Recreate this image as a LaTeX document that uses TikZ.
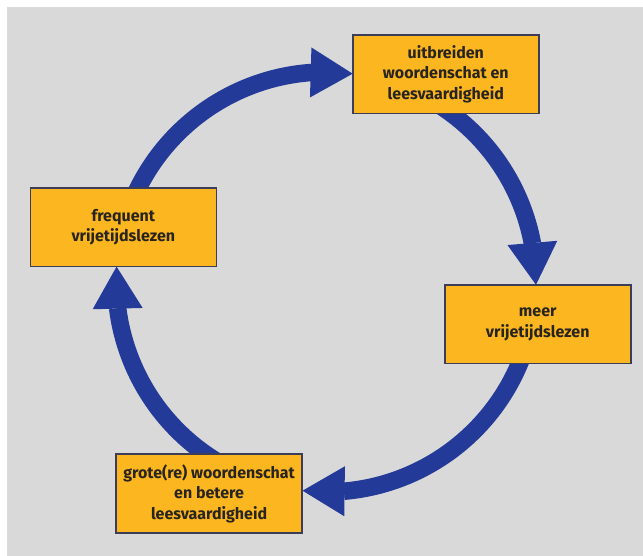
\documentclass[tikz,border=0pt]{standalone}
\usepackage{fontspec}
\setmainfont{Fira Sans}
\usetikzlibrary{arrows.meta,bending,calc,backgrounds}
\definecolor{bg}{RGB}{217,217,217}
\definecolor{boxfill}{RGB}{252,182,32}
\definecolor{boxline}{RGB}{60,62,88}
\definecolor{cycblue}{RGB}{35,58,152}
\definecolor{txt}{RGB}{40,36,30}
\begin{document}
\begin{tikzpicture}[x=1pt,y=1pt,
  stage/.style={draw=boxline, line width=1.6pt, fill=boxfill,
    minimum width=186pt, minimum height=78.5pt, inner sep=0pt,
    align=center, text=txt, font=\fontsize{16}{20.5}\selectfont\bfseries},
  cyc/.style={draw=cycblue, line width=17.5pt,
    -{Triangle[length=42pt,width=50pt,flex,line width=0pt]}}]
\useasboundingbox (0,0) rectangle (643,556);
\coordinate (ctr) at (326,274);
\node[stage] (top) at (445.8,481.8) {uitbreiden\\woordenschat en\\leesvaardigheid};
\node[stage] (left) at (123.3,328.7) {frequent\\vrijetijdslezen};
\node[stage] (right) at (537.7,231.8) {meer\\vrijetijdslezen};
\node[stage] (bot) at (209.1,62.5) {grote(re) woordenschat\\en betere\\leesvaardigheid};
\begin{scope}[on background layer]
\fill[bg] (7.3,0) rectangle (643,548.7);
\draw[cyc] ($(ctr)+(157.4:210)$) arc[start angle=157.4, end angle=82.7, radius=210];
\draw[cyc] ($(ctr)+(57.4:210)$) arc[start angle=57.4, end angle=-0.76, radius=210];
\draw[cyc] ($(ctr)+(-18.8:210)$) arc[start angle=-18.8, end angle=-96.4, radius=210];
\draw[cyc] ($(ctr)+(239:210)$) arc[start angle=239, end angle=175.8, radius=210];
\end{scope}
\end{tikzpicture}
\end{document}
